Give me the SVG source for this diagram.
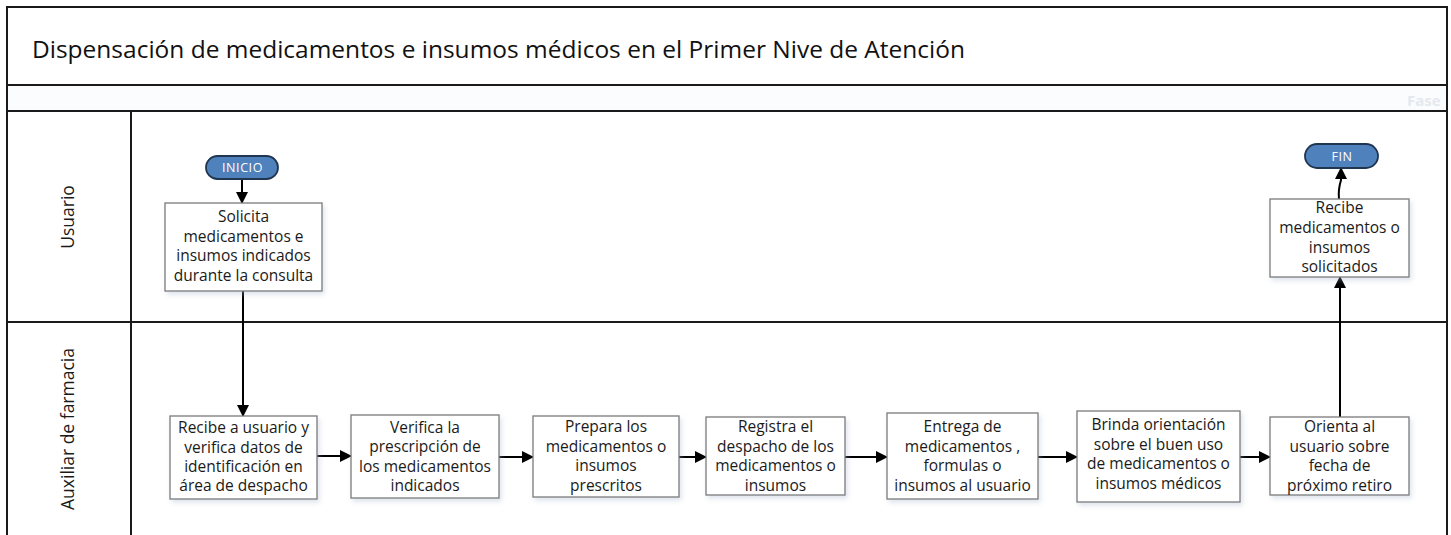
<svg xmlns="http://www.w3.org/2000/svg" width="1451" height="535" viewBox="0 0 1451 535">
<defs>
<style>
.frame{fill:none;stroke:#1a1a1a;stroke-width:2}
.box{fill:#ffffff;stroke:#7a7a7a;stroke-width:1.3;filter:url(#sh)}
.t{font-family:"Open Sans","Noto Sans",sans-serif;font-size:15.5px;fill:#1a1a1a;text-anchor:middle}
.lane{font-family:"Open Sans","Noto Sans",sans-serif;font-size:17.5px;fill:#1a1a1a;text-anchor:middle}
.pill{fill:#4f81bd;stroke:#1f3550;stroke-width:1.8}
.pt{font-family:"Open Sans","Noto Sans",sans-serif;font-size:12.5px;fill:#ffffff;text-anchor:middle;letter-spacing:0.6px}
.c{fill:none;stroke:#000;stroke-width:2}
</style>
<filter id="sh" x="-10%" y="-10%" width="130%" height="130%">
<feDropShadow dx="2" dy="3" stdDeviation="2.5" flood-color="#9fb3cc" flood-opacity="0.35"/>
</filter>
<clipPath id="clipband"><rect x="7" y="85" width="1440" height="26"/></clipPath>
<marker id="ah" markerWidth="12" markerHeight="12" refX="11" refY="6" orient="auto" markerUnits="userSpaceOnUse">
<path d="M0,0 L12,6 L0,12 z" fill="#000"/>
</marker>
</defs>
<rect x="0" y="0" width="1451" height="535" fill="#ffffff"/>
<g id="pool">
<rect x="7" y="85" width="1440" height="26" fill="#fbfcfe"/>
<text x="1407" y="106" clip-path="url(#clipband)" font-family="'Open Sans','Noto Sans',sans-serif" font-size="15px" font-weight="bold" fill="#e4e9f0">Fase</text>
<path class="frame" d="M7,540 L7,7 L1447,7 L1447,540"/>
<line class="frame" x1="7" y1="85" x2="1447" y2="85"/>
<line class="frame" x1="7" y1="111" x2="1447" y2="111"/>
<line class="frame" x1="131" y1="111" x2="131" y2="540"/>
<line class="frame" x1="7" y1="322" x2="1447" y2="322"/>
<text x="32" y="58" textLength="933" lengthAdjust="spacingAndGlyphs" font-family="'Open Sans','Noto Sans',sans-serif" font-size="23px" fill="#111">Dispensación de medicamentos e insumos médicos en el Primer Nive de Atención</text>
</g>
<g id="lane-usuario"><text class="lane" transform="translate(74,217) rotate(-90)">Usuario</text></g>
<g id="lane-auxiliar"><text class="lane" transform="translate(74,429) rotate(-90)">Auxiliar de farmacia</text></g>
<g id="connectors">
<line class="c" x1="242" y1="179" x2="242" y2="203" marker-end="url(#ah)"/>
<line class="c" x1="243" y1="291" x2="243" y2="416" marker-end="url(#ah)"/>
<line class="c" x1="317" y1="456" x2="351" y2="456" marker-end="url(#ah)"/>
<line class="c" x1="499" y1="457" x2="533" y2="457" marker-end="url(#ah)"/>
<line class="c" x1="679" y1="457" x2="706" y2="457" marker-end="url(#ah)"/>
<line class="c" x1="845" y1="457" x2="887" y2="457" marker-end="url(#ah)"/>
<line class="c" x1="1038" y1="457" x2="1077" y2="457" marker-end="url(#ah)"/>
<line class="c" x1="1240" y1="457" x2="1270" y2="457" marker-end="url(#ah)"/>
<line class="c" x1="1340" y1="417" x2="1340" y2="277" marker-end="url(#ah)"/>
<path class="c" d="M1339,199 Q1338,190 1341,180 L1341,168" marker-end="url(#ah)"/>
</g>
<g id="inicio"><rect class="pill" x="206" y="156" width="72" height="23" rx="11.5"/><text class="pt" x="242.5" y="172">INICIO</text></g>
<g id="fin"><rect class="pill" x="1305" y="144" width="73" height="24" rx="12"/><text class="pt" x="1342" y="160.5">FIN</text></g>
<g id="solicita"><rect class="box" x="165" y="203" width="157" height="88"/>
<text class="t"><tspan x="243.5" y="222">Solicita</tspan><tspan x="243.5" y="241.5">medicamentos e</tspan><tspan x="243.5" y="261">insumos indicados</tspan><tspan x="243.5" y="280.5">durante la consulta</tspan></text></g>
<g id="recibe-usuario"><rect class="box" x="1270" y="199" width="139" height="78"/>
<text class="t"><tspan x="1339.5" y="213">Recibe</tspan><tspan x="1339.5" y="233">medicamentos o</tspan><tspan x="1339.5" y="252.5">insumos</tspan><tspan x="1339.5" y="272">solicitados</tspan></text></g>
<g id="recibe"><rect class="box" x="170" y="416" width="147" height="83"/>
<text class="t"><tspan x="243.5" y="433">Recibe a usuario y</tspan><tspan x="243.5" y="452.5">verifica datos de</tspan><tspan x="243.5" y="472">identificación en</tspan><tspan x="243.5" y="491">área de despacho</tspan></text></g>
<g id="verifica"><rect class="box" x="351" y="415" width="148" height="83"/>
<text class="t"><tspan x="425" y="432.5">Verifica la</tspan><tspan x="425" y="452">prescripción de</tspan><tspan x="425" y="471.5">los medicamentos</tspan><tspan x="425" y="491">indicados</tspan></text></g>
<g id="prepara"><rect class="box" x="533" y="416" width="146" height="81"/>
<text class="t"><tspan x="606" y="432">Prepara los</tspan><tspan x="606" y="451.5">medicamentos o</tspan><tspan x="606" y="471">insumos</tspan><tspan x="606" y="490.5">prescritos</tspan></text></g>
<g id="registra"><rect class="box" x="706" y="417" width="139" height="78"/>
<text class="t"><tspan x="775.5" y="432">Registra el</tspan><tspan x="775.5" y="451.5">despacho de los</tspan><tspan x="775.5" y="471">medicamentos o</tspan><tspan x="775.5" y="490.5">insumos</tspan></text></g>
<g id="entrega"><rect class="box" x="887" y="413" width="151" height="86"/>
<text class="t"><tspan x="962.5" y="432">Entrega de</tspan><tspan x="962.5" y="451.5">medicamentos ,</tspan><tspan x="962.5" y="471">formulas o</tspan><tspan x="962.5" y="490.5">insumos al usuario</tspan></text></g>
<g id="brinda"><rect class="box" x="1077" y="411" width="163" height="91"/>
<text class="t"><tspan x="1158.5" y="430">Brinda orientación</tspan><tspan x="1158.5" y="449.5">sobre el buen uso</tspan><tspan x="1158.5" y="469">de medicamentos o</tspan><tspan x="1158.5" y="488.5">insumos médicos</tspan></text></g>
<g id="orienta"><rect class="box" x="1270" y="417" width="139" height="78"/>
<text class="t"><tspan x="1339.5" y="432">Orienta al</tspan><tspan x="1339.5" y="451.5">usuario sobre</tspan><tspan x="1339.5" y="471">fecha de</tspan><tspan x="1339.5" y="490.5">próximo retiro</tspan></text></g>
</svg>
